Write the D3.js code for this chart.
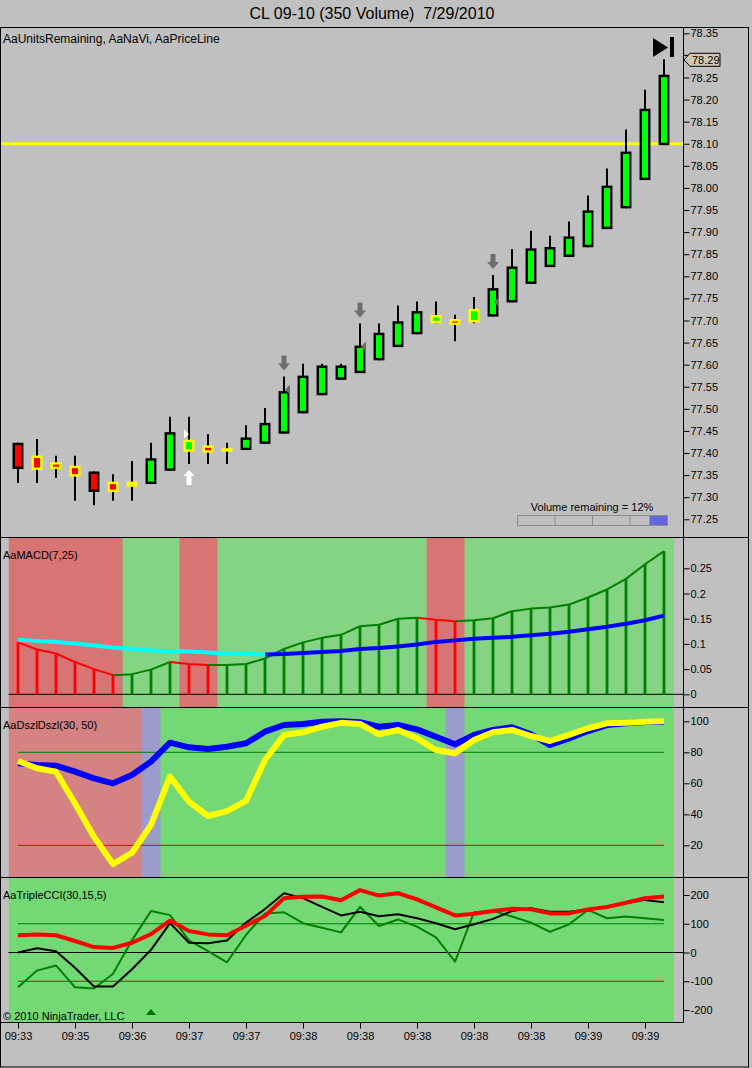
<!DOCTYPE html>
<html>
<head>
<meta charset="utf-8">
<script src="https://cdnjs.cloudflare.com/ajax/libs/d3/7.8.5/d3.min.js"></script>
<style>
body { margin: 0; background: #c0c0c0; }
svg text { font-family: "Liberation Sans", Arial, sans-serif; }
</style>
</head>
<body>
<div id="chart"></div>
<script>
var svgWidth = 752;
var svgHeight = 1068;

// candles, one per 350 volume bar
var opens  = [77.423, 77.394, 77.379, 77.371, 77.358, 77.335, 77.324, 77.330, 77.360, 77.403, 77.417, 77.407,
              77.407, 77.421, 77.444, 77.490, 77.531, 77.566, 77.581, 77.610, 77.640, 77.669, 77.694, 77.703,
              77.696, 77.709, 77.741, 77.783, 77.821, 77.844, 77.866, 77.907, 77.954, 78.018, 78.097];
var highs  = [77.423, 77.432, 77.394, 77.394, 77.358, 77.352, 77.382, 77.423, 77.482, 77.482, 77.443, 77.423,
              77.463, 77.502, 77.573, 77.602, 77.602, 77.602, 77.693, 77.693, 77.734, 77.743, 77.743, 77.713,
              77.753, 77.803, 77.862, 77.903, 77.892, 77.924, 77.983, 78.044, 78.132, 78.222, 78.291];
var lows   = [77.332, 77.332, 77.344, 77.292, 77.282, 77.292, 77.292, 77.330, 77.360, 77.375, 77.375, 77.375,
              77.407, 77.421, 77.444, 77.490, 77.531, 77.566, 77.581, 77.610, 77.640, 77.669, 77.694, 77.653,
              77.694, 77.709, 77.741, 77.783, 77.821, 77.844, 77.866, 77.907, 77.954, 78.018, 78.097];
var closes = [77.364, 77.362, 77.364, 77.347, 77.312, 77.312, 77.335, 77.388, 77.447, 77.430, 77.401, 77.407,
              77.435, 77.468, 77.540, 77.575, 77.598, 77.598, 77.643, 77.672, 77.698, 77.721, 77.712, 77.690,
              77.726, 77.773, 77.822, 77.863, 77.866, 77.890, 77.949, 78.005, 78.082, 78.179, 78.256];
// bars painted with yellow outline
var paintBars = [0,1,1,1,0,1,1,0,0,1,1,1,0,0,0,0,0,0,0,0,0,0,1,1,1,0,0,0,0,0,0,0,0,0,0];

var priceLine = 78.10;
var lastPrice = 78.29;
var volumeRemaining = 12;
var naviDownBars = [14, 18, 25];
var naviDownLevels = [77.543, 77.641, 77.742];
var naviUpBars = [9];
var naviUpLevels = [77.443];
var cciMarkBars = [7];

// 78.30 sits under the last price tag, so it is not labelled
var priceTicks = [78.35, 78.25, 78.20, 78.15, 78.10, 78.05, 78.00, 77.95, 77.90, 77.85, 77.80, 77.75,
                  77.70, 77.65, 77.60, 77.55, 77.50, 77.45, 77.40, 77.35, 77.30, 77.25];

// AaMACD(7,25)
var macdHist = [0.103, 0.089, 0.081, 0.064, 0.050, 0.038, 0.040, 0.049, 0.064, 0.060, 0.058, 0.058,
                0.060, 0.071, 0.090, 0.103, 0.112, 0.118, 0.135, 0.138, 0.150, 0.152, 0.148, 0.145,
                0.147, 0.151, 0.165, 0.170, 0.172, 0.178, 0.192, 0.208, 0.229, 0.258, 0.284];
var macdSignal = [0.108, 0.106, 0.104, 0.101, 0.097, 0.093, 0.090, 0.087, 0.086, 0.085, 0.083, 0.081,
                  0.080, 0.079, 0.080, 0.082, 0.084, 0.086, 0.090, 0.092, 0.095, 0.099, 0.104, 0.107,
                  0.110, 0.112, 0.114, 0.117, 0.120, 0.124, 0.129, 0.134, 0.140, 0.147, 0.156];
var macdState = ["r","r","r","r","r","r","g","g","g","r","r","g","g","g","g","g","g","g","g","g","g","g",
                 "r","r","g","g","g","g","g","g","g","g","g","g","g"];
var macdTicks = [0.25, 0.2, 0.15, 0.1, 0.05, 0];

// AaDszlDszl(30, 50)
var dszlBlue = [72.9, 71.8, 71.4, 67.5, 63.2, 60.0, 65.4, 74.0, 86.2, 83.2, 82.1, 83.6, 85.8, 93.3, 97.6, 98.3,
                99.7, 100, 99.4, 96.5, 97.6, 94.8, 90.0, 85.2, 91.2, 94.4, 96.1, 91.6, 84.7, 89.0, 93.7, 97.6,
                98.7, 99.5, 99.5];
var dszlYellow = [74.4, 69.7, 67.5, 47.0, 25.5, 7.9, 15.2, 33.1, 64.3, 48.1, 38.9, 42.1, 48.6, 75.0, 91.2, 92.9,
                  96.5, 99.0, 98.3, 91.6, 94.4, 89.0, 81.5, 79.4, 87.9, 92.9, 94.4, 90.5, 87.3, 91.2, 95.5, 98.7,
                  99.0, 99.7, 100];
var dszlState = ["r","r","r","r","r","r","r","b","g","g","g","g","g","g","g","g","g","g","g","g","g","g",
                 "g","b","g","g","g","g","g","g","g","g","g","g","g"];
var dszlTicks = [100, 80, 60, 40, 20];

// AaTripleCCI(30,15,5)
var cciRed = [60, 63, 60, 40, 19, 16, 34, 64, 111, 75, 63, 60, 93, 127, 189, 194, 195, 182, 217, 198, 206, 185,
              157, 129, 135, 144, 152, 150, 136, 136, 150, 158, 173, 189, 195];
var cciBlack = [0, 15, 4, -53, -118, -118, -58, 9, 102, 34, 32, 42, 104, 151, 206, 189, 159, 129, 142, 126, 133,
                119, 102, 81, 98, 117, 144, 154, 142, 142, 150, 159, 171, 183, 175];
var cciGreen = [-121, -63, -45, -121, -125, -74, 43, 144, 130, 42, 5, -34, 61, 136, 140, 102, 86, 70, 159, 92,
                115, 90, 53, -32, 140, 145, 125, 104, 72, 98, 148, 119, 125, 119, 113];
var cciTicks = [200, 100, 0, -100, -200];

var timeLabels = ["09:33", "09:35", "09:36", "09:37", "09:37", "09:38", "09:38", "09:38", "09:38", "09:38", "09:39", "09:39"];

// layout
var axisX = 683;
var frameRight = 748;
var panels = {
    price: { top: 27, bottom: 537 },
    macd:  { top: 537, bottom: 707 },
    dszl:  { top: 707, bottom: 877 },
    cci:   { top: 877, bottom: 1022 }
};

var svg = d3.select("#chart")
    .append("svg")
    .attr("width", svgWidth)
    .attr("height", svgHeight);

svg.append("rect").attr("width", svgWidth).attr("height", svgHeight).attr("fill", "#c0c0c0");

var n = opens.length;
var xScale = d3.scaleLinear().domain([0, n - 1]).range([18, 664]);
var step = xScale(1) - xScale(0);

var yPrice = d3.scaleLinear().domain([77.25, 78.35]).range([519.3, 33.3]);
var yMacd = d3.scaleLinear().domain([0, 0.25]).range([694.3, 568.3]);
var yDszl = d3.scaleLinear().domain([0, 100]).range([876.3, 721.3]);
var yCci = d3.scaleLinear().domain([-200, 200]).range([1010, 895]);

// coloured state bands behind indicator panels
function bands(states, colors, panel) {
    svg.append("g").selectAll("rect")
        .data(states)
        .join("rect")
        .attr("x", (d, i) => xScale(i) - step / 2)
        .attr("width", step + 0.5)
        .attr("y", panel.top)
        .attr("height", panel.bottom - panel.top)
        .attr("fill", d => colors[d]);
}
bands(macdState, { r: "#d87474", g: "#84d484" }, panels.macd);
bands(dszlState, { r: "#d48282", g: "#74d874", b: "#9c9ccc" }, panels.dszl);
bands(cciRed.map(() => "g"), { g: "#74d874" }, panels.cci);

// draw a series as runs of same-coloured segments
function colouredLine(values, yScale, colourOf, width) {
    var runs = [];
    for (var i = 1; i < values.length; i++) {
        var c = colourOf(i);
        if (runs.length && runs[runs.length - 1].c === c) {
            runs[runs.length - 1].pts.push(i);
        } else {
            runs.push({ c: c, pts: [i - 1, i] });
        }
    }
    var line = d3.line().x(i => xScale(i)).y(i => yScale(values[i]));
    svg.append("g").selectAll("path")
        .data(runs)
        .join("path")
        .attr("d", d => line(d.pts))
        .attr("fill", "none")
        .attr("stroke", d => d.c)
        .attr("stroke-width", width)
        .attr("stroke-linejoin", "round");
}

function plainLine(values, yScale, colour, width) {
    svg.append("path")
        .datum(values)
        .attr("d", d3.line().x((d, i) => xScale(i)).y(d => yScale(d)))
        .attr("fill", "none")
        .attr("stroke", colour)
        .attr("stroke-width", width)
        .attr("stroke-linejoin", "round");
}

function hLine(y, x1, x2, colour, width) {
    svg.append("line")
        .attr("x1", x1).attr("x2", x2)
        .attr("y1", y).attr("y2", y)
        .attr("stroke", colour)
        .attr("stroke-width", width || 1);
}

// ---- price panel ----
hLine(yPrice(priceLine), 0, axisX, "#ffff00", 3);

var candles = svg.append("g");
candles.selectAll("line")
    .data(opens)
    .join("line")
    .attr("x1", (d, i) => xScale(i)).attr("x2", (d, i) => xScale(i))
    .attr("y1", (d, i) => yPrice(highs[i]))
    .attr("y2", (d, i) => yPrice(lows[i]))
    .attr("stroke", "#000")
    .attr("stroke-width", 2);

candles.selectAll("rect")
    .data(opens)
    .join("rect")
    .each(function (d, i) {
        var mid = (yPrice(opens[i]) + yPrice(closes[i])) / 2;
        var h = Math.abs(yPrice(opens[i]) - yPrice(closes[i]));
        var inner = Math.max(h - 2.2, 1);
        d3.select(this)
            .attr("x", xScale(i) - 4.25)
            .attr("width", 8.5)
            .attr("y", mid - inner / 2)
            .attr("height", inner)
            .attr("fill", closes[i] >= opens[i] ? "#00ff00" : "#ff0000")
            .attr("stroke", paintBars[i] ? "#ffff00" : "#000")
            .attr("stroke-width", 2.4);
    });

// AaNaVi markers
naviDownBars.forEach(function (b, k) {
    var cx = xScale(b);
    var bottom = yPrice(highs[b]) - 6;
    svg.append("path")
        .attr("d", `M${cx - 2.5},${bottom - 15} h5 v8 h3.5 l-6,7 l-6,-7 h3.5 z`)
        .attr("fill", "#6e6e6e");
    var ly = yPrice(naviDownLevels[k]);
    svg.append("path")
        .attr("d", `M${cx + 1},${ly} l5,-5 v10 z`)
        .attr("fill", "#6e6e6e");
});
naviUpBars.forEach(function (b, k) {
    var cx = xScale(b);
    var top = yPrice(lows[b]) + 6;
    svg.append("path")
        .attr("d", `M${cx},${top} l5.5,6 h-3 v9 h-5 v-9 h-3 z`)
        .attr("fill", "#fff");
    var ly = yPrice(naviUpLevels[k]);
    svg.append("path")
        .attr("d", `M${cx - 5},${ly - 4.5} l5,4.5 l-5,4.5 z`)
        .attr("fill", "#fff");
});

// end-of-chart marker
var endX = xScale(n - 1);
svg.append("path").attr("d", `M${endX - 11},38 L${endX - 11},57 L${endX + 4},47.5 z`).attr("fill", "#000");
svg.append("rect").attr("x", endX + 6).attr("y", 37).attr("width", 4).attr("height", 20).attr("fill", "#000");

// volume remaining gauge
var volScale = d3.scaleLinear().domain([0, 100]).range([517.5, 667.5]);
svg.append("text")
    .attr("x", 592).attr("y", 511)
    .attr("text-anchor", "middle")
    .attr("font-size", 11)
    .text("Volume remaining = " + volumeRemaining + "%");
svg.append("rect")
    .attr("x", volScale(100 - volumeRemaining)).attr("y", 515.5)
    .attr("width", volScale(100) - volScale(100 - volumeRemaining)).attr("height", 10)
    .attr("fill", "#6464dc");
svg.append("rect")
    .attr("x", volScale(0)).attr("y", 515.5)
    .attr("width", volScale(100) - volScale(0)).attr("height", 10)
    .attr("fill", "none").attr("stroke", "#8c8c8c");
[25, 50, 75].forEach(function (v) {
    svg.append("line")
        .attr("x1", volScale(v)).attr("x2", volScale(v))
        .attr("y1", 515.5).attr("y2", 525.5)
        .attr("stroke", "#8c8c8c");
});

// ---- MACD panel ----
hLine(yMacd(0), 0, axisX, "#000", 1);
var macdColour = { r: "#ff0000", g: "#008000" };
svg.append("g").selectAll("line")
    .data(macdHist)
    .join("line")
    .attr("x1", (d, i) => xScale(i)).attr("x2", (d, i) => xScale(i))
    .attr("y1", yMacd(0))
    .attr("y2", d => yMacd(d))
    .attr("stroke", (d, i) => macdColour[macdState[i]])
    .attr("stroke-width", 2.8);
colouredLine(macdHist, yMacd, i => macdColour[macdState[i]], 2);
colouredLine(macdSignal, yMacd, i => macdHist[i] > macdSignal[i] ? "#0000ff" : "#00ffff", 4);

// ---- Dszl panel ----
hLine(yDszl(80), xScale(0), xScale(n - 1), "#008000", 1);
hLine(yDszl(20), xScale(0), xScale(n - 1), "#e00000", 1);
plainLine(dszlBlue, yDszl, "#0000ff", 6);
plainLine(dszlYellow, yDszl, "#ffff00", 6);

// ---- CCI panel ----
hLine(yCci(0), 0, axisX, "#000", 1);
hLine(yCci(100), xScale(0), xScale(n - 1), "#008000", 1);
hLine(yCci(-100), xScale(0), xScale(n - 1), "#e00000", 1);
plainLine(cciGreen, yCci, "#008000", 2);
plainLine(cciBlack, yCci, "#000", 2);
plainLine(cciRed, yCci, "#ff0000", 4);
cciMarkBars.forEach(function (b) {
    var cx = xScale(b);
    svg.append("path")
        .attr("d", `M${cx - 5},${panels.cci.bottom - 7} L${cx + 5},${panels.cci.bottom - 7} L${cx},${panels.cci.bottom - 13} z`)
        .attr("fill", "#007000");
});

// gray strip at the left of indicator panels
svg.append("rect").attr("x", 0).attr("y", panels.macd.top).attr("width", xScale(0) - step / 2)
    .attr("height", panels.cci.bottom - panels.macd.top).attr("fill", "#c0c0c0");

// ---- frame ----
svg.append("rect")
    .attr("x", 0.5).attr("y", panels.price.top + 0.5)
    .attr("width", frameRight).attr("height", svgHeight - panels.price.top - 1.5)
    .attr("fill", "none").attr("stroke", "#000");
[panels.macd.top, panels.dszl.top, panels.cci.top].forEach(function (y) {
    hLine(y + 0.5, 0, frameRight, "#000", 1);
});
hLine(panels.cci.bottom + 0.5, 0, axisX + 0.5, "#000", 1);
svg.append("line")
    .attr("x1", axisX + 0.5).attr("x2", axisX + 0.5)
    .attr("y1", panels.price.top).attr("y2", panels.cci.bottom + 0.5)
    .attr("stroke", "#000");

// ---- axes ----
function rightAxis(scale, ticks, fmt) {
    var g = svg.append("g")
        .attr("transform", `translate(${axisX + 0.5},0)`)
        .call(d3.axisRight(scale).tickValues(ticks).tickFormat(fmt).tickSize(6).tickPadding(1));
    g.select(".domain").remove();
    g.attr("font-size", 11).attr("font-family", "Liberation Sans, Arial, sans-serif");
    g.selectAll("line").attr("stroke", "#000");
    g.selectAll("text").attr("fill", "#000");
}
rightAxis(yPrice, priceTicks, d3.format(".2f"));
rightAxis(yMacd, macdTicks, d => String(d));
rightAxis(yDszl, dszlTicks, d => String(d));
rightAxis(yCci, cciTicks, d => String(d));

var xAxis = svg.append("g")
    .attr("transform", `translate(0,${panels.cci.bottom + 0.5})`)
    .call(d3.axisBottom(xScale)
        .tickValues(timeLabels.map((d, i) => i * 3))
        .tickFormat((d, i) => timeLabels[i])
        .tickSize(6).tickPadding(4));
xAxis.select(".domain").remove();
xAxis.attr("font-size", 11).attr("font-family", "Liberation Sans, Arial, sans-serif");
xAxis.selectAll("line").attr("stroke", "#000");
xAxis.selectAll("text").attr("fill", "#000");

// current price tag
var tagY = yPrice(lastPrice);
svg.append("line")
    .attr("x1", axisX).attr("x2", axisX + 6)
    .attr("y1", yPrice(78.30)).attr("y2", yPrice(78.30))
    .attr("stroke", "#000");
svg.append("path")
    .attr("d", `M${axisX + 1},${tagY} L${axisX + 7},${tagY - 6.5} H${axisX + 37} V${tagY + 6.5} H${axisX + 7} z`)
    .attr("fill", "#d0c8b2").attr("stroke", "#000");
svg.append("text")
    .attr("x", axisX + 9).attr("y", tagY + 4)
    .attr("font-size", 11)
    .text(lastPrice.toFixed(2));

// ---- texts ----
svg.append("text")
    .attr("x", 372).attr("y", 19)
    .attr("text-anchor", "middle")
    .attr("font-size", 16)
    .style("white-space", "pre")
    .text("CL 09-10 (350 Volume)  7/29/2010");

var labels = [
    ["AaUnitsRemaining, AaNaVi, AaPriceLine", panels.price.top + 16, 12],
    ["AaMACD(7,25)", panels.macd.top + 22, 11],
    ["AaDszlDszl(30, 50)", panels.dszl.top + 22, 11],
    ["AaTripleCCI(30,15,5)", panels.cci.top + 22, 11],
    ["\u00a9 2010 NinjaTrader, LLC", panels.cci.bottom - 2, 11]
];
labels.forEach(function (l) {
    svg.append("text")
        .attr("x", 3).attr("y", l[1])
        .attr("font-size", l[2])
        .text(l[0]);
});
</script>
</body>
</html>
